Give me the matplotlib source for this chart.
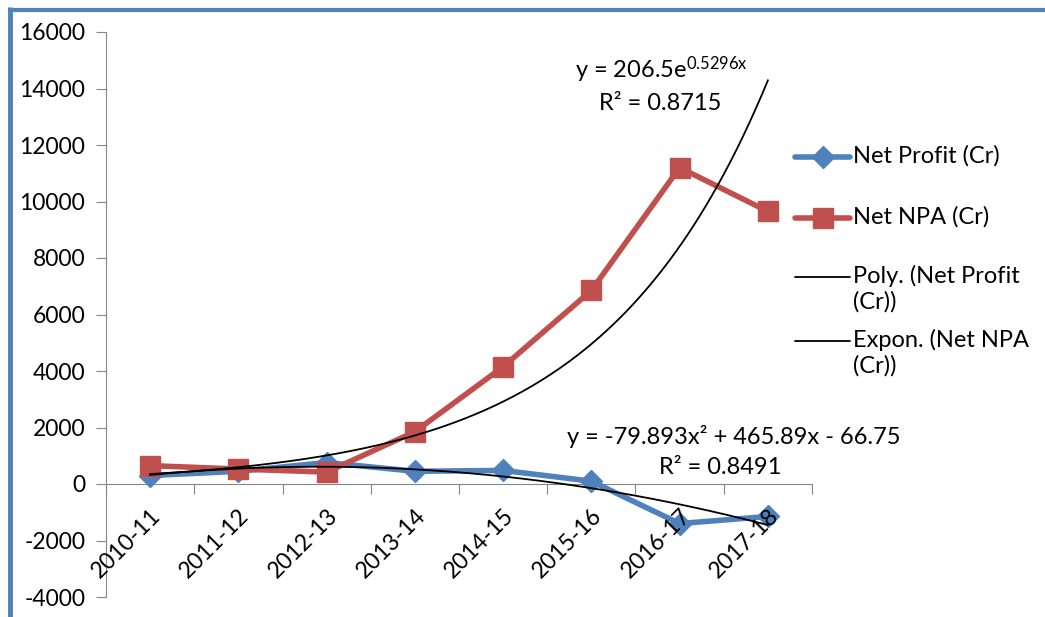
import numpy as np
import matplotlib
matplotlib.use("Agg")
import matplotlib.pyplot as plt
import matplotlib.transforms as mtransforms
from matplotlib.lines import Line2D

plt.rcParams['font.family'] = ['Lato', 'DejaVu Sans']
plt.rcParams['mathtext.default'] = 'regular'

categories = ["2010-11", "2011-12", "2012-13", "2013-14", "2014-15", "2015-16", "2016-17", "2017-18"]
net_profit = [300, 450, 760, 450, 480, 100, -1400, -1150]
net_npa = [650, 530, 420, 1850, 4150, 6850, 11200, 9650]
# Trendline coefficients shown on the chart
poly_coef = [-79.893, 465.89, -66.75]
exp_a, exp_b = 206.5, 0.5296
y_ticks = [-4000, -2000, 0, 2000, 4000, 6000, 8000, 10000, 12000, 14000, 16000]
legend_labels = ["Net Profit (Cr)", "Net NPA (Cr)", "Poly. (Net Profit\n(Cr))", "Expon. (Net NPA\n(Cr))"]

W, H = 1045, 617
FS = 17
fig = plt.figure(figsize=(W / 100, H / 100), dpi=100)
ax = fig.add_axes([106 / W, 1 - 597 / H, (812 - 106) / W, (597 - 32) / H])

x = np.arange(1, len(categories) + 1)
blue = '#4F81BD'
red = '#C0504D'
grey = '#868686'

ax.plot(x, net_profit, color=blue, lw=4, marker='D', ms=11, mec=blue, mfc=blue,
        solid_joinstyle='round', zorder=3)
ax.plot(x, net_npa, color=red, lw=4, marker='s', ms=14, mec=red, mfc=red,
        solid_joinstyle='round', zorder=3)

xs = np.linspace(1, len(categories), 200)
ax.plot(xs, np.polyval(poly_coef, xs), color='black', lw=1.3, zorder=4)
ax.plot(xs, exp_a * np.exp(exp_b * xs), color='black', lw=1.3, zorder=4)

ax.set_xlim(0.5, len(categories) + 0.5)
ax.set_ylim(-4000, 16000)
ax.set_yticks(y_ticks)
ax.set_yticklabels([str(v) for v in y_ticks])

for s in ['top', 'right']:
    ax.spines[s].set_visible(False)
ax.spines['left'].set_color(grey)
ax.spines['bottom'].set_color(grey)
ax.spines['bottom'].set_position(('data', 0))

ax.set_xticks(np.arange(0.5, len(categories) + 1, 1))
ax.set_xticklabels([])
ax.tick_params(axis='x', which='major', direction='out', length=7, color=grey)
ax.tick_params(axis='y', direction='out', length=7, color=grey, labelsize=FS - 0.5, pad=8)

# Category labels, rotated 45 degrees below the zero axis
offset = mtransforms.ScaledTranslation(0 / 100, -21 / 100, fig.dpi_scale_trans)
for xi, cat in zip(x, categories):
    ax.text(xi, 0, cat, rotation=45, ha='right', va='top', rotation_mode='anchor',
            fontsize=FS - 0.5, transform=ax.transData + offset, clip_on=False)

# Equations
fig.text(661 / W, 1 - 70 / H, r"y = 206.5e$^{0.5296x}$", ha='center', va='center', fontsize=FS)
fig.text(660 / W, 1 - 103 / H, "R\u00b2 = 0.8715", ha='center', va='center', fontsize=FS)
fig.text(567 / W, 1 - 436 / H, "y = -79.893x\u00b2 + 465.89x - 66.75", ha='left', va='center', fontsize=FS)
fig.text(781 / W, 1 - 467 / H, "R\u00b2 = 0.8491", ha='right', va='center', fontsize=FS)

# Legend (Excel style: handle aligned with first text line)
legend_handles = [
    dict(color=blue, lw=4, marker='D', ms=11),
    dict(color=red, lw=4, marker='s', ms=14),
    dict(color='black', lw=1.3),
    dict(color='black', lw=1.3),
]
legend_rows = [157, 218, 277, 341]
for lab, hs, yrow in zip(legend_labels, legend_handles, legend_rows):
    yf = 1 - yrow / H
    fig.add_artist(Line2D([795 / W, 850 / W], [yf, yf], transform=fig.transFigure,
                          color=hs['color'], lw=hs['lw'], solid_capstyle='round'))
    if 'marker' in hs:
        fig.add_artist(Line2D([822.5 / W], [yf], transform=fig.transFigure,
                              color=hs['color'], marker=hs['marker'], ms=hs['ms'], lw=0))
    fig.text(853 / W, yf + 12 / H, lab, ha='left', va='top', fontsize=FS, linespacing=1.2)

# Blue frame (left and top)
fig.add_artist(Line2D([9.5 / W, 9.5 / W], [0, 1 - 7 / H], color=blue, lw=3.5,
                      transform=fig.transFigure, solid_capstyle='butt'))
fig.add_artist(Line2D([7.5 / W, 1], [1 - 9.5 / H, 1 - 9.5 / H], color=blue, lw=3.0,
                      transform=fig.transFigure, solid_capstyle='butt'))

fig.savefig('out.png', dpi=100, facecolor='white')
